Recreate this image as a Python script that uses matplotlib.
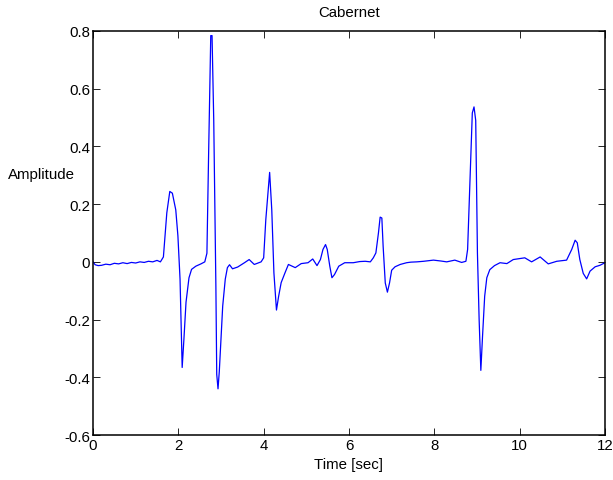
import matplotlib
matplotlib.use("Agg")
import matplotlib.pyplot as plt

plt.rcParams['font.family'] = ['Liberation Sans', 'DejaVu Sans']

time_sec = [0.0, 0.05, 0.12, 0.2, 0.3, 0.4, 0.5, 0.6, 0.7, 0.8, 0.9, 1.0, 1.1, 1.2, 1.3, 1.4,
            1.5, 1.58, 1.65, 1.73, 1.8, 1.86, 1.94, 1.99, 2.04, 2.09,
            2.13, 2.18, 2.25, 2.31, 2.41, 2.53, 2.62, 2.67, 2.71, 2.76, 2.79, 2.83, 2.88, 2.9,
            2.93, 2.96, 3.04, 3.1, 3.15, 3.2, 3.27, 3.39, 3.55, 3.66, 3.78, 3.94, 4.0, 4.05,
            4.14, 4.19, 4.24, 4.3, 4.35, 4.41, 4.5, 4.58, 4.64, 4.74, 4.88, 5.04, 5.15, 5.25,
            5.33, 5.39, 5.45, 5.49, 5.55, 5.6, 5.66, 5.76, 5.9, 6.1, 6.25, 6.38, 6.5, 6.57, 6.63,
            6.69, 6.73, 6.77, 6.8, 6.85, 6.9, 6.95, 7.0, 7.08, 7.2, 7.35, 7.45, 7.59, 7.75, 7.98,
            8.15, 8.29, 8.48, 8.64, 8.74, 8.78, 8.84, 8.89, 8.93, 8.97, 9.01, 9.05, 9.09, 9.13,
            9.18, 9.23, 9.3, 9.41, 9.54, 9.7, 9.85, 10.12, 10.28, 10.48, 10.67, 10.87, 11.1,
            11.22, 11.3, 11.35, 11.41, 11.49, 11.57, 11.65, 11.77, 11.88, 12.0]
amplitude = [0.0, -0.01, -0.013, -0.012, -0.008, -0.01, -0.005, -0.007, -0.003, -0.006, -0.002,
             -0.004, 0.0, -0.002, 0.002, 0.0, 0.005, 0.0, 0.017, 0.17, 0.244, 0.238, 0.18, 0.09,
             -0.06, -0.366, -0.27, -0.14, -0.055, -0.026, -0.015, -0.007, 0.0, 0.03, 0.376,
             0.784, 0.784, 0.49, -0.084, -0.39, -0.44, -0.38, -0.153, -0.06, -0.02, -0.01,
             -0.024, -0.018, -0.003, 0.008, -0.009, 0.0, 0.014, 0.146, 0.31, 0.18, -0.038,
             -0.167, -0.12, -0.072, -0.038, -0.009, -0.013, -0.02, -0.006, -0.003, 0.01, -0.013,
             0.008, 0.043, 0.06, 0.043, -0.015, -0.055, -0.044, -0.015, -0.003, -0.003, 0.001,
             0.002, 0.0, 0.014, 0.031, 0.1, 0.155, 0.152, 0.054, -0.073, -0.105, -0.073, -0.029,
             -0.017, -0.009, -0.003, -0.001, 0.0, 0.002, 0.006, 0.003, 0.0, 0.006, -0.002, 0.002,
             0.043, 0.297, 0.516, 0.537, 0.49, 0.031, -0.2, -0.376, -0.257, -0.119, -0.055,
             -0.027, -0.013, -0.003, -0.006, 0.008, 0.014, 0.0, 0.017, -0.007, 0.002, 0.006,
             0.043, 0.075, 0.066, 0.008, -0.04, -0.059, -0.032, -0.017, -0.012, -0.003]

x_ticks = [0, 2, 4, 6, 8, 10, 12]
y_ticks = [-0.6, -0.4, -0.2, 0, 0.2, 0.4, 0.6, 0.8]
y_tick_labels = ['-0.6', '-0.4', '-0.2', '0', '0.2', '0.4', '0.6', '0.8']

fs = 10.8
fig = plt.figure(figsize=(6.13, 4.81), dpi=100)
ax = fig.add_axes([93 / 613, 1 - 436 / 481, 512 / 613, 404 / 481])
ax.plot(time_sec, amplitude, color=(0, 0, 1), linewidth=0.9)
ax.set_xlim(0, 12)
ax.set_ylim(-0.6, 0.8)
ax.set_xticks(x_ticks)
ax.set_xticklabels([str(t) for t in x_ticks])
ax.set_yticks(y_ticks)
ax.set_yticklabels(y_tick_labels)
ax.tick_params(direction='in', length=5, width=0.6, labelsize=fs, top=True, right=True, pad=2)
for s in ax.spines.values():
    s.set_linewidth(1.1)
ax.set_title('Cabernet', fontsize=fs, pad=11)
ax.set_xlabel('Time [sec]', fontsize=fs, labelpad=4)
ax.text(-0.101, 0.646, 'Amplitude', transform=ax.transAxes, ha='center', va='center', fontsize=fs)

fig.savefig('out.png', dpi=100)
